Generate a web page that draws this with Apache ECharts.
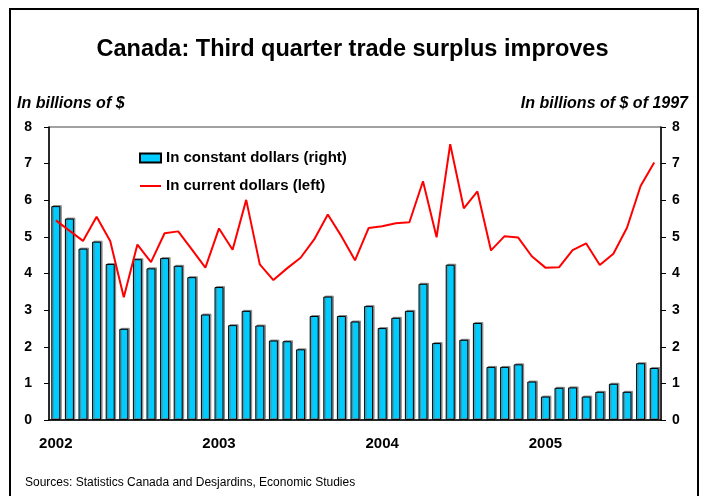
<!DOCTYPE html>
<html>
<head>
<meta charset="utf-8">
<script src="https://cdn.jsdelivr.net/npm/echarts@6/dist/echarts.min.js"></script>
<style>
html,body{margin:0;padding:0;background:#fff;}
#chart{width:705px;height:496px;}
</style>
</head>
<body>
<div id="chart"></div>
<script>
// Monthly categories, Jan 2002 .. Sep 2005
var months = [];
var years = ['2002', '2003', '2004', '2005'];
var monthsPerYear = [12, 12, 12, 9];
years.forEach(function (y, i) {
  for (var m = 1; m <= monthsPerYear[i]; m++) months.push(y + '-' + (m < 10 ? '0' + m : m));
});

// In constant dollars (right axis, billions of 1997 $)
var constantDollars = [5.84, 5.50, 4.68, 4.87, 4.26, 2.49, 4.39, 4.14, 4.42, 4.21, 3.90, 2.88,
  3.63, 2.59, 2.98, 2.58, 2.17, 2.15, 1.93, 2.84, 3.37, 2.84, 2.69, 3.11,
  2.51, 2.79, 2.98, 3.72, 2.10, 4.24, 2.19, 2.65, 1.45, 1.45, 1.52, 1.05,
  0.64, 0.88, 0.89, 0.64, 0.77, 0.99, 0.77, 1.55, 1.42];

// In current dollars (left axis, billions of $)
var currentDollars = [5.45, 5.17, 4.89, 5.55, 4.89, 3.35, 4.79, 4.31, 5.10, 5.15, 4.66, 4.16,
  5.23, 4.65, 6.01, 4.25, 3.82, 4.14, 4.43, 4.93, 5.61, 5.02, 4.36, 5.24,
  5.29, 5.37, 5.40, 6.52, 4.99, 7.53, 5.78, 6.24, 4.63, 5.02, 4.98, 4.47,
  4.16, 4.17, 4.64, 4.82, 4.23, 4.54, 5.25, 6.39, 7.03];

var yTicks = [0, 1, 2, 3, 4, 5, 6, 7, 8];

var chart = echarts.init(document.getElementById('chart'), null, {renderer: 'canvas'});
var font = 'Liberation Sans, Arial, sans-serif';

var option = {
  backgroundColor: '#ffffff',
  animation: false,
  textStyle: {fontFamily: font},
  title: {
    text: 'Canada: Third quarter trade surplus improves',
    left: 'center',
    top: 33,
    textStyle: {fontFamily: font, fontSize: 23.5, fontWeight: 'bold', color: '#000'}
  },
  legend: {
    orient: 'vertical',
    left: 139,
    top: 150,
    padding: 0,
    itemGap: 12,
    itemWidth: 21,
    itemHeight: 9,
    textStyle: {fontFamily: font, fontSize: 15, fontWeight: 'bold', color: '#000', lineHeight: 16},
    data: [
      {name: 'In constant dollars (right)', icon: 'rect'},
      {name: 'In current dollars (left)', itemStyle: {opacity: 0, borderWidth: 0}}
    ]
  },
  grid: {
    left: 49, right: 44, top: 127, bottom: 76,
    show: true, borderColor: '#444', borderWidth: 1, backgroundColor: 'transparent'
  },
  xAxis: {
    type: 'category',
    data: months,
    boundaryGap: true,
    axisLine: {lineStyle: {color: '#000', width: 1.5}},
    axisTick: {show: false},
    axisLabel: {
      interval: 0,
      margin: 16,
      fontFamily: font, fontSize: 15, fontWeight: 'bold', color: '#000',
      formatter: function (v) {
        var parts = v.split('-');
        return parts[1] === '01' ? parts[0] : '';
      }
    },
    splitLine: {show: false}
  },
  yAxis: [
    {
      type: 'value', min: yTicks[0], max: yTicks[yTicks.length - 1], interval: 1,
      position: 'left',
      axisLine: {show: true, lineStyle: {color: '#000', width: 1.5}},
      axisTick: {show: true, inside: false, length: 5, lineStyle: {color: '#000', width: 1}},
      axisLabel: {margin: 17, fontFamily: font, fontSize: 14, fontWeight: 'bold', color: '#000'},
      splitLine: {show: false}
    },
    {
      type: 'value', min: yTicks[0], max: yTicks[yTicks.length - 1], interval: 1,
      position: 'right',
      axisLine: {show: true, lineStyle: {color: '#000', width: 1.5}},
      axisTick: {show: true, inside: false, length: 5, lineStyle: {color: '#000', width: 1}},
      axisLabel: {margin: 11, fontFamily: font, fontSize: 14, fontWeight: 'bold', color: '#000'},
      splitLine: {show: false}
    }
  ],
  graphic: [
    {
      type: 'rect', z: 100, silent: true,
      shape: {x: 10, y: 9, width: 688, height: 500},
      style: {fill: 'none', stroke: '#000', lineWidth: 2}
    },
    {
      type: 'text', left: 17, top: 96, z: 100,
      style: {text: 'In billions of $', font: 'italic bold 16px ' + font, fill: '#000'}
    },
    {
      type: 'text', right: 17, top: 96, z: 100,
      style: {text: 'In billions of $ of 1997', font: 'italic bold 16px ' + font, fill: '#000'}
    },
    {
      type: 'text', left: 25, top: 477, z: 100,
      style: {text: 'Sources: Statistics Canada and Desjardins, Economic Studies', font: '12px ' + font, fill: '#000'}
    }
  ],
  series: [
    {
      name: 'In constant dollars (right)',
      type: 'bar',
      yAxisIndex: 1,
      data: constantDollars,
      barWidth: 9,
      itemStyle: {
        color: '#00CCFF', borderColor: '#000', borderWidth: 1,
        shadowColor: 'rgba(120,120,120,0.8)', shadowOffsetX: 1.5, shadowOffsetY: -1, shadowBlur: 0
      },
      z: 2
    },
    {
      name: 'In current dollars (left)',
      type: 'line',
      yAxisIndex: 0,
      data: currentDollars,
      symbol: 'none',
      lineStyle: {color: '#FF0000', width: 2},
      itemStyle: {color: '#FF0000'},
      z: 5
    }
  ]
};
chart.setOption(option);
</script>
</body>
</html>
